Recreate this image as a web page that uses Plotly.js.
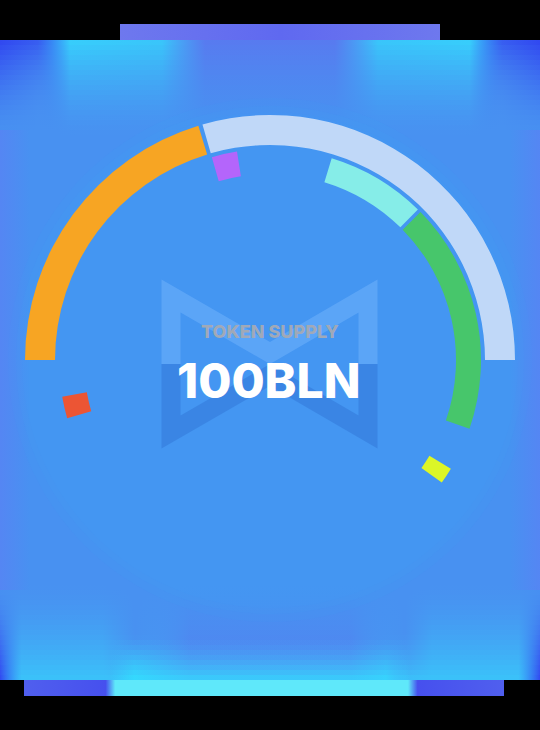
<!DOCTYPE html>
<html>
<head>
<meta charset="utf-8">
<script src="https://cdn.plot.ly/plotly-3.0.1.min.js"></script>
<style>
  html, body { margin: 0; padding: 0; background: #000; }
  #chart { width: 540px; height: 730px; }
</style>
</head>
<body>
<div id="chart"></div>
<script>
// ---- Data (arc positions in degrees, counter-clockwise from 3 o'clock) ----
const outerCategories = ['Segment A', 'Segment B'];
const outerStartDeg   = [180, 106];
const outerSpanDeg    = [73, 106];
const outerColors     = ['#f7a523', '#c0d8f8'];

const innerCategories = ['Segment C', 'Segment D', 'Segment E', 'Segment F', 'Segment G'];
const innerStartDeg   = [106, 73, 44.5, -31, 196];
const innerSpanDeg    = [7, 27.5, 63.5, 4.5, 6];
const innerColors     = ['#b465fb', '#86ede8', '#47c66b', '#dcf627', '#ec5534'];

const centerLabel = 'TOKEN SUPPLY';
const centerValue = '100BLN';

// ---- Build traces ----
function centers(start, span) { return start.map((s, i) => s - span[i] / 2); }

const outerTrace = {
  type: 'barpolar', name: 'outer',
  theta: centers(outerStartDeg, outerSpanDeg),
  width: outerSpanDeg,
  r: outerCategories.map(() => 30),
  base: outerCategories.map(() => 215),
  text: outerCategories,
  marker: { color: outerColors, line: { width: 0 } },
  hoverinfo: 'text', showlegend: false
};
const innerTrace = {
  type: 'barpolar', name: 'inner',
  theta: centers(innerStartDeg, innerSpanDeg),
  width: innerSpanDeg,
  r: innerCategories.map(() => 25),
  base: innerCategories.map(() => 186),
  text: innerCategories,
  marker: { color: innerColors, line: { width: 0 } },
  hoverinfo: 'text', showlegend: false
};

const W = 540, H = 730, CX = 270, CY = 360, R = 246;

// ---- decorative glowing frame (horizontal-gradient strips) ----
const DEEP = [45, 60, 240], CYAN = [50, 225, 255], LILAC = [100, 105, 238];
function rgba(c, a) { return 'rgba(' + c[0] + ',' + c[1] + ',' + c[2] + ',' + Math.max(0, Math.min(1, a)).toFixed(3) + ')'; }
function strip(x0, x1, y0, y1, stops) {
  return {
    type: 'scatter', mode: 'none', x: [x0, x1, x1, x0], y: [y0, y0, y1, y1], fill: 'toself',
    fillgradient: { type: 'horizontal', start: x0, stop: x1, colorscale: stops },
    line: { width: 0 }, hoverinfo: 'skip', showlegend: false, xaxis: 'x', yaxis: 'y'
  };
}
const frame = [];
// top band
for (let y = 40; y < 135; y += 5) {
  const t = (y - 40) / 95, a = Math.pow(1 - t, 1.6);
  frame.push(strip(0, 540, y, y + 5, [
    [0.00, rgba(DEEP, a * 0.85)], [0.07, rgba(DEEP, a * 0.6 * (1 - t))],
    [0.13, rgba(CYAN, a * 0.75)], [0.30, rgba(CYAN, a * 0.65)],
    [0.38, rgba(LILAC, a * 0.55)], [0.62, rgba(LILAC, a * 0.55)],
    [0.70, rgba(CYAN, a * 0.65)], [0.87, rgba(CYAN, a * 0.75)],
    [0.93, rgba(DEEP, a * 0.6 * (1 - t))], [1.00, rgba(DEEP, a * 0.85)]
  ]));
}
frame.push(strip(120, 440, 24, 40, [
  [0, 'rgba(110,120,238,1)'], [0.5, 'rgba(95,105,240,1)'], [1, 'rgba(110,120,238,1)']
]));
// bottom band
for (let y = 585; y < 680; y += 5) {
  const t = (680 - (y + 5)) / 95, a = Math.pow(1 - t, 1.6);
  const c = Math.max(0, 1 - t * 2.2);   // cyan dominates near the edge
  frame.push(strip(0, 540, y, y + 5, [
    [0.00, rgba(DEEP, a * 0.85)], [0.04, rgba(CYAN, a * 0.6)],
    [0.19, rgba(CYAN, a * 0.6)], [0.25, rgba(CYAN, a * 0.55 * c)],
    [0.35, rgba(LILAC, a * 0.45)], [0.65, rgba(LILAC, a * 0.45)],
    [0.75, rgba(CYAN, a * 0.55 * c)], [0.80, rgba(CYAN, a * 0.6)],
    [0.96, rgba(CYAN, a * 0.6)], [1.00, rgba(DEEP, a * 0.85)]
  ]));
}
for (let y = 640; y < 680; y += 5) {
  const a = Math.pow((y + 5 - 640) / 40, 1.4);
  frame.push(strip(110, 410, y, y + 5, [
    [0, rgba(CYAN, 0)], [0.08, rgba(CYAN, a * 0.75)], [0.92, rgba(CYAN, a * 0.75)], [1, rgba(CYAN, 0)]
  ]));
}
frame.push(strip(24, 504, 680, 696, [
  [0.00, 'rgba(80,95,238,1)'], [0.17, 'rgba(70,80,238,1)'], [0.19, 'rgba(95,232,250,1)'],
  [0.80, 'rgba(95,232,250,1)'], [0.82, 'rgba(70,80,238,1)'], [1.00, 'rgba(80,95,238,1)']
]));
// side haze
frame.push(strip(0, 30, 130, 590, [[0, 'rgba(95,125,245,0.55)'], [1, 'rgba(95,125,245,0)']]));
frame.push(strip(510, 540, 130, 590, [[0, 'rgba(95,125,245,0)'], [1, 'rgba(95,125,245,0.55)']]));

function circ(r, color) {
  return { type: 'circle', xref: 'x', yref: 'y', x0: CX - r, y0: CY - r, x1: CX + r, y1: CY + r,
           fillcolor: color, line: { width: 0 }, layer: 'below' };
}

const shapes = [
  { type: 'rect', xref: 'x', yref: 'y', x0: 0, y0: 40, x1: 540, y1: 680, fillcolor: '#4891f1', line: { width: 0 }, layer: 'below' },
  circ(262, 'rgba(68,150,242,0.4)'),
  circ(254, 'rgba(68,150,242,0.6)'),
  circ(248, '#4496f2'),
  // faint bow-tie logo
  { type: 'path', xref: 'x', yref: 'y', layer: 'below',
    path: 'M171,364 L171,296 L270,353 L368,296 L368,364',
    line: { color: 'rgba(125,185,255,0.42)', width: 19 } },
  { type: 'path', xref: 'x', yref: 'y', layer: 'below',
    path: 'M171,364 L171,432 L270,375 L368,432 L368,364',
    line: { color: 'rgba(35,95,195,0.3)', width: 19 } }
];

const layout = {
  width: W, height: H,
  margin: { l: 0, r: 0, t: 0, b: 0, pad: 0 },
  paper_bgcolor: '#000000',
  plot_bgcolor: 'rgba(0,0,0,0)',
  showlegend: false,
  xaxis: { range: [0, W], visible: false, fixedrange: true, domain: [0, 1] },
  yaxis: { range: [H, 0], visible: false, fixedrange: true, domain: [0, 1] },
  polar: {
    domain: { x: [0, 1], y: [(H - CY - R) / H, (H - CY + R) / H] },
    bgcolor: 'rgba(0,0,0,0)',
    radialaxis: { visible: false, range: [0, R] },
    angularaxis: { visible: false, rotation: 0, direction: 'counterclockwise' },
    barmode: 'overlay'
  },
  shapes: shapes,
  annotations: [
    { xref: 'paper', yref: 'paper', x: 270 / W, y: (H - 331) / H, xanchor: 'center', yanchor: 'middle',
      text: centerLabel, showarrow: false,
      font: { family: 'Inter, Roboto, sans-serif', size: 18, color: '#a0a9b8', weight: 800 } },
    { xref: 'paper', yref: 'paper', x: 268 / W, y: (H - 380) / H, xanchor: 'center', yanchor: 'middle',
      text: centerValue, showarrow: false,
      font: { family: 'Inter, Roboto, sans-serif', size: 48, color: '#ffffff', weight: 800 } }
  ]
};

Plotly.newPlot('chart', frame.concat([outerTrace, innerTrace]), layout, { displayModeBar: false, staticPlot: true });
</script>
</body>
</html>
